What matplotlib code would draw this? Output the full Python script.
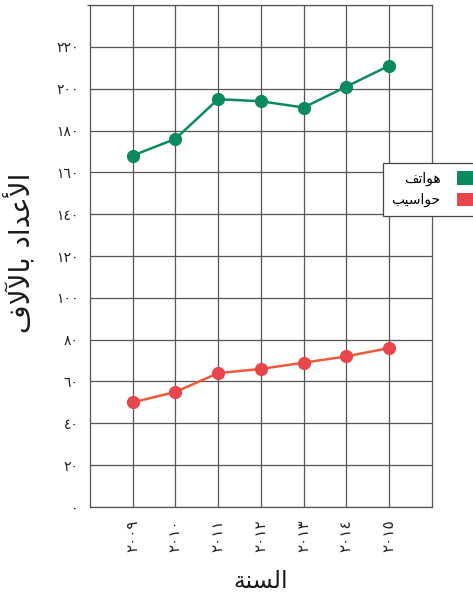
import matplotlib
matplotlib.use("Agg")
import matplotlib.pyplot as plt
from matplotlib.patches import Patch

# ---- data ----
years = [2009, 2010, 2011, 2012, 2013, 2014, 2015]
phones = [168, 176, 195, 194, 191, 201, 211]
computers = [50, 55, 64, 66, 69, 72, 76]
y_ticks = list(range(0, 221, 20))
series_names = ["هواتف", "حواسيب"]
x_title = "السنة"
y_title = "الأعداد بالآلاف"

# ---- simple Arabic shaping (presentation forms + visual order) ----
FORMS = {
    'ا': (0xFE8D, 0xFE8E, None, None), 'أ': (0xFE83, 0xFE84, None, None),
    'آ': (0xFE81, 0xFE82, None, None), 'ب': (0xFE8F, 0xFE90, 0xFE91, 0xFE92),
    'ت': (0xFE95, 0xFE96, 0xFE97, 0xFE98), 'ة': (0xFE93, 0xFE94, None, None),
    'ح': (0xFEA1, 0xFEA2, 0xFEA3, 0xFEA4), 'د': (0xFEA9, 0xFEAA, None, None),
    'س': (0xFEB1, 0xFEB2, 0xFEB3, 0xFEB4), 'ع': (0xFEC9, 0xFECA, 0xFECB, 0xFECC),
    'ف': (0xFED1, 0xFED2, 0xFED3, 0xFED4), 'ل': (0xFEDD, 0xFEDE, 0xFEDF, 0xFEE0),
    'ن': (0xFEE5, 0xFEE6, 0xFEE7, 0xFEE8), 'ه': (0xFEE9, 0xFEEA, 0xFEEB, 0xFEEC),
    'و': (0xFEED, 0xFEEE, None, None), 'ي': (0xFEF1, 0xFEF2, 0xFEF3, 0xFEF4),
}
LAMALEF = {'ا': (0xFEFB, 0xFEFC), 'أ': (0xFEF7, 0xFEF8), 'آ': (0xFEF5, 0xFEF6)}


def shape(text):
    toks = []
    i = 0
    while i < len(text):
        c = text[i]
        if c == 'ل' and i + 1 < len(text) and text[i + 1] in LAMALEF:
            toks.append(('LA', text[i + 1]))
            i += 2
        else:
            toks.append(('C', c))
            i += 1

    def dual(t):
        return t[0] == 'C' and t[1] in FORMS and FORMS[t[1]][2] is not None

    def arabic(t):
        return t[0] == 'LA' or t[1] in FORMS

    out = []
    for k, t in enumerate(toks):
        prev = toks[k - 1] if k > 0 else None
        nxt = toks[k + 1] if k + 1 < len(toks) else None
        jp = prev is not None and dual(prev) and arabic(t)
        if t[0] == 'LA':
            iso, fin = LAMALEF[t[1]]
            out.append(chr(fin if jp else iso))
            continue
        c = t[1]
        if c not in FORMS:
            out.append(c)
            continue
        iso, fin, ini, med = FORMS[c]
        jn = nxt is not None and dual(t) and arabic(nxt)
        if jp and jn:
            out.append(chr(med))
        elif jp:
            out.append(chr(fin))
        elif jn:
            out.append(chr(ini))
        else:
            out.append(chr(iso))
    return ''.join(reversed(out))


AR_DIGITS = str.maketrans("0123456789", "٠١٢٣٤٥٦٧٨٩")


def ar_num(v):
    return str(v).translate(AR_DIGITS)


plt.rcParams['font.family'] = ['DejaVu Sans']

fig = plt.figure(figsize=(4.73, 5.94), dpi=100)
ax = fig.add_axes([0.190, 0.1465, 0.723, 0.845])

green = "#0b8a62"
red_m = "#e8454c"
red_l = "#ee5a3c"
grid_c = "#555555"

ax.plot(years, phones, color=green, lw=1.8, marker='o', ms=8.5, zorder=3)
ax.plot(years, computers, color=red_l, lw=1.8, marker='o', ms=8.5,
        markerfacecolor=red_m, markeredgecolor=red_m, zorder=3)

ax.set_xlim(2008, 2016)
ax.set_ylim(0, 240)
ax.set_xticks(years)
ax.set_xticklabels([ar_num(y) for y in years], rotation=90, fontsize=11,
                   color="#222222")
ax.set_yticks(y_ticks)
ax.set_yticklabels([ar_num(v) for v in y_ticks], fontsize=10, color="#222222")
ax.set_yticks([240], minor=True)
ax.tick_params(length=0, pad=8)
ax.tick_params(axis='x', pad=9)
ax.grid(True, which='both', color=grid_c, lw=0.9)
for s in ax.spines.values():
    s.set_color(grid_c)
    s.set_linewidth(0.9)

ax.set_xlabel(shape(x_title), fontsize=17, color="#1a1a1a", labelpad=12)
fig.text(0.045, 0.575, shape(y_title), rotation=90, fontsize=20,
         color="#1a1a1a", ha='center', va='center')

handles = [Patch(facecolor=green, edgecolor='none'),
           Patch(facecolor=red_m, edgecolor='none')]
leg = fig.legend(handles, [shape(n) for n in series_names],
                 loc='upper left', bbox_to_anchor=(383 / 473, 1 - 163 / 594),
                 markerfirst=False, fancybox=False, framealpha=1,
                 edgecolor="#444444", fontsize=10, handlelength=1.4,
                 handleheight=1.1, borderpad=0.6, labelspacing=0.5,
                 handletextpad=1.2, borderaxespad=0)
leg.get_frame().set_linewidth(0.9)

fig.savefig("out.png", dpi=100)
